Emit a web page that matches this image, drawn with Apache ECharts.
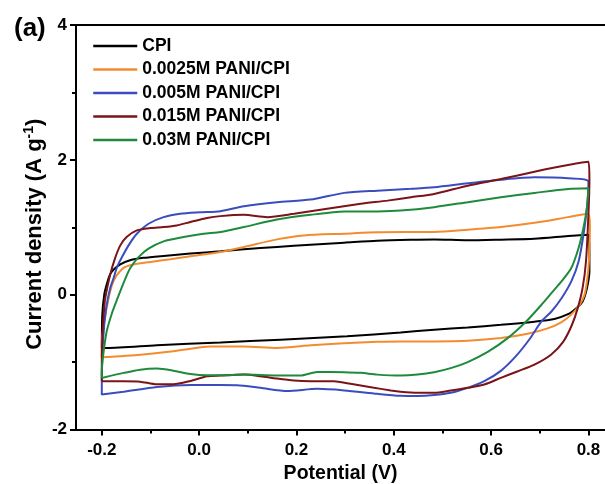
<!DOCTYPE html>
<html>
<head>
<meta charset="utf-8">
<script src="https://cdn.jsdelivr.net/npm/echarts@6/dist/echarts.min.js"></script>
<style>
html,body{margin:0;padding:0;background:#fff;}
#chart{width:605px;height:484px;}
</style>
</head>
<body>
<div id="chart"></div>
<script>
// ---- data (Potential V, Current density A/g) ----
var seriesNames = ['CPI', '0.0025M PANI/CPI', '0.005M PANI/CPI', '0.015M PANI/CPI', '0.03M PANI/CPI'];
var seriesColors = ['#000000', '#F38B2F', '#3A4DBE', '#7A1418', '#1E8B3C'];
var xTickValues = [-0.2, 0.0, 0.2, 0.4, 0.6, 0.8];
var xMinorValues = [-0.1, 0.1, 0.3, 0.5, 0.7];

var cpi = [
  [-0.2,-0.79],[-0.199,-0.3],[-0.195,0.0],[-0.19,0.15],[-0.183,0.3],[-0.176,0.37],[-0.162,0.45],
  [-0.142,0.51],[-0.114,0.546],[-0.073,0.575],[-0.018,0.609],[0.044,0.645],[0.092,0.673],[0.16,0.708],
  [0.229,0.742],[0.298,0.771],[0.366,0.80],[0.435,0.815],[0.483,0.82],[0.552,0.806],[0.62,0.816],
  [0.689,0.83],[0.758,0.87],[0.8,0.89],
  [0.802,0.6],[0.802,0.35],[0.797,0.1],[0.788,-0.1],[0.775,-0.2],[0.758,-0.29],[0.73,-0.36],
  [0.689,-0.4],[0.62,-0.448],[0.552,-0.487],[0.483,-0.52],[0.414,-0.56],[0.304,-0.617],[0.167,-0.667],
  [0.044,-0.71],[-0.087,-0.75],[-0.19,-0.79],[-0.2,-0.79]
];
var pani0025 = [
  [-0.2,-0.93],[-0.2,-0.7],[-0.197,-0.5],[-0.19,-0.2],[-0.183,0.044],[-0.176,0.2],[-0.169,0.29],
  [-0.155,0.398],[-0.135,0.447],[-0.1,0.486],[-0.059,0.525],[-0.018,0.569],[0.044,0.634],[0.092,0.708],
  [0.16,0.82],[0.215,0.879],[0.298,0.904],[0.366,0.925],[0.435,0.929],[0.483,0.93],[0.552,0.963],
  [0.62,1.003],[0.689,1.066],[0.758,1.15],[0.8,1.2],
  [0.803,1.0],[0.801,0.5],[0.797,0.2],[0.792,0.0],[0.782,-0.15],[0.764,-0.3],[0.744,-0.41],
  [0.716,-0.5],[0.675,-0.58],[0.62,-0.644],[0.552,-0.684],[0.483,-0.693],[0.414,-0.693],[0.366,-0.7],
  [0.297,-0.72],[0.229,-0.752],[0.16,-0.79],[0.092,-0.767],[0.023,-0.77],[-0.053,-0.84],[-0.12,-0.89],
  [-0.2,-0.93]
];
var pani005 = [
  [-0.2,-1.49],[-0.2,-1.33],[-0.197,-0.64],[-0.191,-0.2],[-0.183,0.093],[-0.176,0.24],[-0.169,0.4],
  [-0.159,0.55],[-0.145,0.731],[-0.128,0.904],[-0.104,1.052],[-0.073,1.15],[-0.039,1.2],[0.002,1.222],
  [0.044,1.239],[0.092,1.31],[0.16,1.37],[0.229,1.41],[0.298,1.51],[0.366,1.543],[0.435,1.57],
  [0.483,1.593],[0.552,1.652],[0.62,1.705],[0.689,1.74],[0.758,1.726],[0.8,1.676],
  [0.797,1.3],[0.79,0.9],[0.78,0.5],[0.765,0.2],[0.745,-0.05],[0.724,-0.25],[0.703,-0.4],
  [0.68,-0.65],[0.65,-0.92],[0.62,-1.13],[0.586,-1.283],[0.552,-1.382],[0.517,-1.456],[0.483,-1.49],
  [0.449,-1.504],[0.414,-1.5],[0.366,-1.47],[0.298,-1.42],[0.243,-1.397],[0.181,-1.43],[0.126,-1.382],
  [0.078,-1.342],[0.044,-1.34],[-0.018,-1.34],[-0.087,-1.37],[-0.155,-1.44],[-0.2,-1.48]
];
var pani015 = [
  [-0.2,-1.28],[-0.2,-0.9],[-0.198,-0.5],[-0.195,-0.2],[-0.193,-0.055],[-0.183,0.29],[-0.173,0.535],
  [-0.162,0.731],[-0.149,0.855],[-0.128,0.953],[-0.1,0.988],[-0.073,1.003],[-0.046,1.027],[-0.018,1.077],
  [0.016,1.136],[0.044,1.165],[0.092,1.184],[0.14,1.15],[0.195,1.2],[0.263,1.273],[0.332,1.347],
  [0.387,1.395],[0.435,1.445],[0.483,1.494],[0.552,1.617],[0.62,1.715],[0.689,1.823],[0.758,1.922],
  [0.8,1.97],
  [0.802,1.7],[0.8,1.2],[0.795,0.5],[0.788,0.1],[0.778,-0.2],[0.766,-0.45],[0.748,-0.7],
  [0.723,-0.891],[0.689,-1.038],[0.655,-1.136],[0.62,-1.234],[0.586,-1.333],[0.552,-1.382],[0.517,-1.422],
  [0.483,-1.456],[0.449,-1.456],[0.414,-1.441],[0.394,-1.422],[0.353,-1.372],[0.311,-1.323],[0.277,-1.283],
  [0.229,-1.283],[0.195,-1.274],[0.16,-1.245],[0.126,-1.21],[0.092,-1.186],[0.044,-1.2],[0.016,-1.21],
  [-0.018,-1.28],[-0.053,-1.33],[-0.087,-1.33],[-0.121,-1.29],[-0.155,-1.283],[-0.2,-1.283]
];
var pani03 = [
  [-0.2,-1.235],[-0.2,-1.136],[-0.197,-0.89],[-0.19,-0.546],[-0.178,-0.25],[-0.168,-0.06],[-0.155,0.18],
  [-0.142,0.388],[-0.124,0.56],[-0.104,0.683],[-0.073,0.791],[-0.032,0.855],[0.009,0.904],[0.044,0.93],
  [0.092,1.003],[0.16,1.115],[0.229,1.184],[0.298,1.233],[0.366,1.235],[0.414,1.248],[0.483,1.298],
  [0.552,1.372],[0.62,1.445],[0.689,1.509],[0.758,1.568],[0.8,1.578],
  [0.797,1.3],[0.79,1.0],[0.78,0.7],[0.765,0.4],[0.745,0.2],[0.727,0.05],[0.703,-0.153],
  [0.672,-0.398],[0.634,-0.645],[0.593,-0.85],[0.552,-1.0],[0.517,-1.09],[0.483,-1.15],[0.449,-1.185],
  [0.414,-1.2],[0.366,-1.186],[0.332,-1.16],[0.298,-1.15],[0.243,-1.146],[0.208,-1.2],[0.16,-1.2],
  [0.092,-1.186],[0.044,-1.195],[0.016,-1.195],[-0.018,-1.176],[-0.053,-1.127],[-0.087,-1.097],
  [-0.121,-1.112],[-0.155,-1.16],[-0.2,-1.235]
];
var seriesData = [cpi, pani0025, pani005, pani015, pani03];

// ---- chart ----
var FONT = "'Liberation Sans', Arial, sans-serif";
var chart = echarts.init(document.getElementById('chart'), null, {renderer: 'canvas'});
var XMIN = -0.253, XMAX = 0.834;

var series = seriesNames.map(function (n, i) {
  return {
    name: n, type: 'line', data: seriesData[i], xAxisIndex: 0, yAxisIndex: 0,
    showSymbol: false, symbol: 'none', smooth: 0.25,
    lineStyle: {color: seriesColors[i], width: 2},
    itemStyle: {color: seriesColors[i]},
    silent: true
  };
});

var option = {
  animation: false,
  backgroundColor: '#ffffff',
  grid: {left: 76, right: 0, top: 25, bottom: 54.5, containLabel: false, outerBoundsMode: 'none'},
  graphic: [{
    type: 'text', left: 14, top: 16,
    style: {text: '(a)', font: 'bold 26px ' + FONT, fill: '#000'}
  }],
  legend: {
    left: 92, top: 37, orient: 'vertical', padding: 0,
    itemWidth: 44, itemHeight: 14, itemGap: 5.5,
    data: seriesNames,
    itemStyle: {opacity: 0, borderWidth: 0},
    lineStyle: {width: 2.5},
    textStyle: {fontFamily: FONT, fontWeight: 'bold', fontSize: 17.5, color: '#000'}
  },
  xAxis: [{
    type: 'value', min: XMIN, max: XMAX, position: 'bottom',
    name: 'Potential (V)', nameLocation: 'middle', nameGap: 34,
    nameTextStyle: {fontFamily: FONT, fontWeight: 'bold', fontSize: 19.5, color: '#000'},
    axisLine: {show: true, onZero: false, lineStyle: {color: '#000', width: 2}},
    axisTick: {show: true, inside: false, length: 6, customValues: xTickValues, lineStyle: {color: '#000', width: 2}},
    axisLabel: {show: true, margin: 12, customValues: xTickValues, fontFamily: FONT, fontWeight: 'bold', fontSize: 17, color: '#000',
      formatter: function (v) { return v.toFixed(1); }},
    splitLine: {show: false}
  }, {
    type: 'value', min: XMIN, max: XMAX, position: 'bottom', gridIndex: 0,
    axisLine: {show: false, onZero: false},
    axisTick: {show: true, inside: false, length: 4, customValues: xMinorValues, lineStyle: {color: '#000', width: 2}},
    axisLabel: {show: false},
    splitLine: {show: false}
  }, {
    type: 'value', min: XMIN, max: XMAX, position: 'top',
    axisLine: {show: true, onZero: false, lineStyle: {color: '#000', width: 2}},
    axisTick: {show: false}, axisLabel: {show: false}, splitLine: {show: false}
  }],
  yAxis: [{
    type: 'value', min: -2, max: 4, interval: 2,
    name: 'Current density (A g{sup|-1})', nameLocation: 'middle', nameGap: 29, nameRotate: 90,
    nameMoveOverlap: false,
    nameTextStyle: {fontFamily: FONT, fontWeight: 'bold', fontSize: 22, color: '#000', padding: [0, 14, 0, 0],
      rich: {sup: {fontFamily: FONT, fontWeight: 'bold', fontSize: 14, color: '#000', verticalAlign: 'top', padding: [0, 0, 11, 0]}}},
    axisLine: {show: true, onZero: false, lineStyle: {color: '#000', width: 2}},
    axisTick: {show: true, inside: false, length: 6, lineStyle: {color: '#000', width: 2}},
    minorTick: {show: true, splitNumber: 2, length: 4, lineStyle: {color: '#000', width: 2}},
    axisLabel: {show: true, margin: 9, fontFamily: FONT, fontWeight: 'bold', fontSize: 17, color: '#000'},
    splitLine: {show: false}, minorSplitLine: {show: false}
  }],
  series: series
};
chart.setOption(option);
</script>
</body>
</html>
